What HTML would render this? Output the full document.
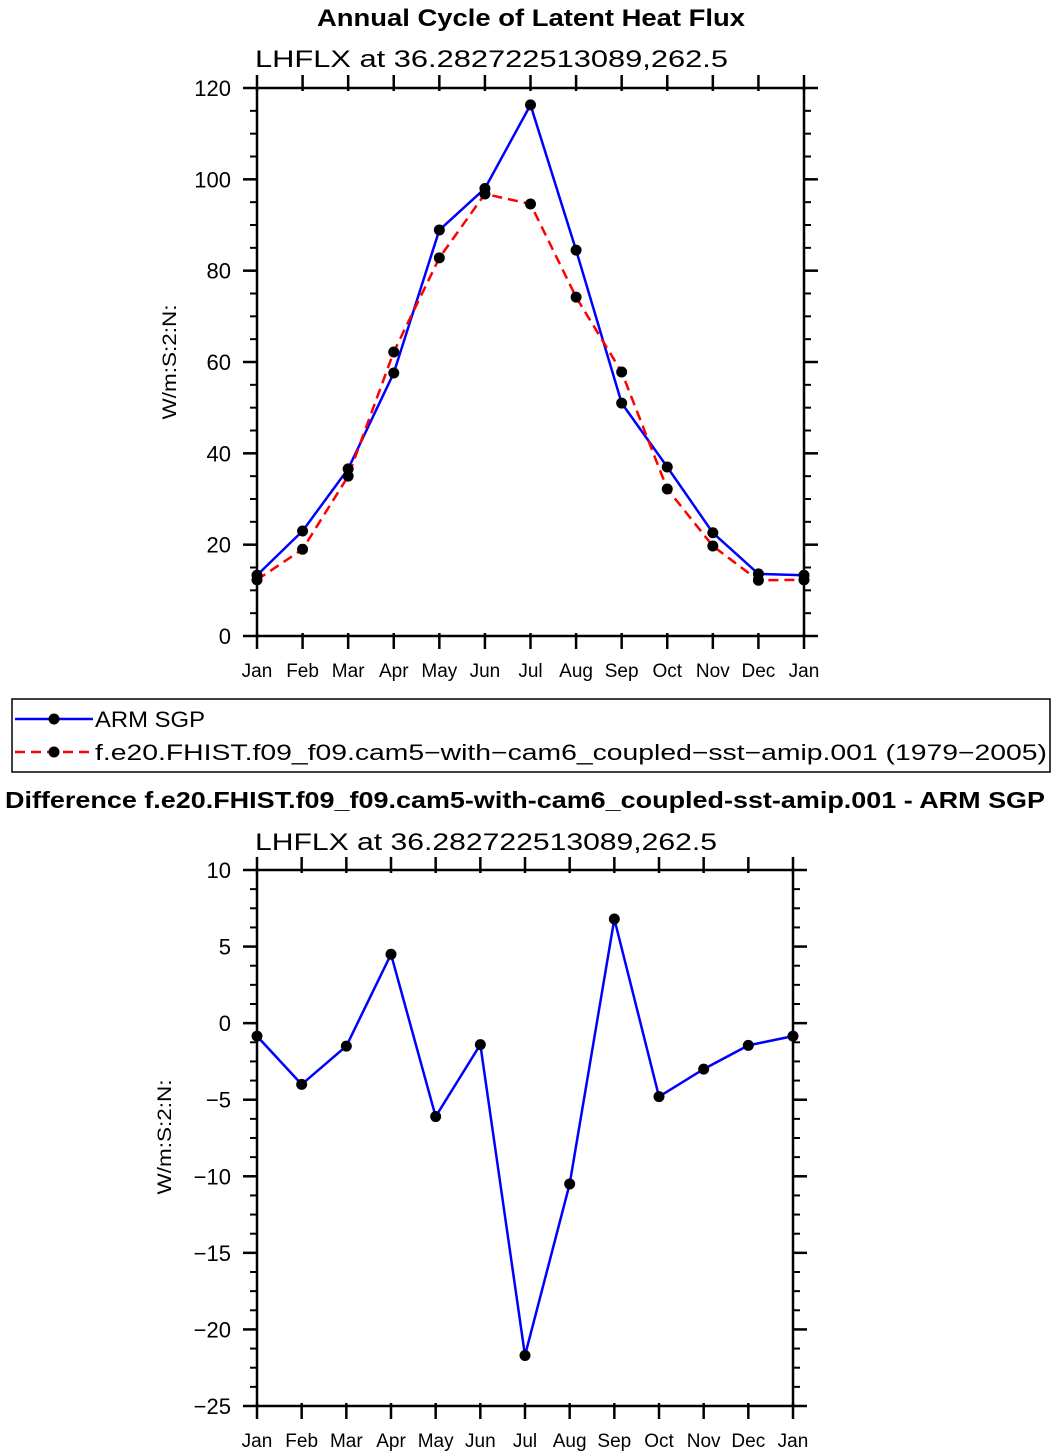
<!DOCTYPE html>
<html><head><meta charset="utf-8"><style>
body{margin:0;background:#fff}
svg{display:block;font-family:"Liberation Sans","DejaVu Sans",sans-serif}
</style></head><body>
<svg id="svg" width="1057" height="1456" viewBox="0 0 1057 1456" xmlns="http://www.w3.org/2000/svg">
<text x="531" y="26" text-anchor="middle" font-size="24" font-weight="bold" textLength="428" lengthAdjust="spacingAndGlyphs">Annual Cycle of Latent Heat Flux</text>
<text x="255" y="67" font-size="24" textLength="473" lengthAdjust="spacingAndGlyphs">LHFLX  at  36.282722513089,262.5</text>
<text transform="translate(176,362) rotate(-90)" text-anchor="middle" font-size="19" textLength="115" lengthAdjust="spacingAndGlyphs">W/m:S:2:N:</text>
<g>
<rect x="12" y="699" width="1038" height="73" fill="none" stroke="#000" stroke-width="1.5"/>
<g>
<line x1="15" y1="719" x2="93" y2="719" stroke="#0000ff" stroke-width="2.5"/><circle cx="54" cy="719" r="5.5"/>
<text x="95" y="727" font-size="22" textLength="110" lengthAdjust="spacingAndGlyphs">ARM  SGP</text></g>
<g>
<line x1="15" y1="752" x2="93" y2="752" stroke="#ff0000" stroke-width="2.5" stroke-dasharray="10,6"/><circle cx="54" cy="752" r="5.5"/>
<text x="95" y="760" font-size="22" textLength="952" lengthAdjust="spacingAndGlyphs">f.e20.FHIST.f09_f09.cam5−with−cam6_coupled−sst−amip.001  (1979−2005)</text></g>
</g>
<text x="525" y="808" text-anchor="middle" font-size="23" font-weight="bold" textLength="1040" lengthAdjust="spacingAndGlyphs">Difference f.e20.FHIST.f09_f09.cam5-with-cam6_coupled-sst-amip.001 - ARM SGP</text>
<text x="255" y="850" font-size="24" textLength="462" lengthAdjust="spacingAndGlyphs">LHFLX  at  36.282722513089,262.5</text>
<text transform="translate(171,1137) rotate(-90)" text-anchor="middle" font-size="19" textLength="115" lengthAdjust="spacingAndGlyphs">W/m:S:2:N:</text>
<g id="top"></g>
<g id="bot"></g>
</svg>
<script>
const months = ["Jan","Feb","Mar","Apr","May","Jun","Jul","Aug","Sep","Oct","Nov","Dec","Jan"];
const armSgp = [13.3,23,36.6,57.6,88.9,98,116.3,84.5,51,37,22.6,13.6,13.3];
const model = [12.3,19,35,62.2,82.8,96.8,94.6,74.2,57.8,32.2,19.7,12.2,12.3];
const diff = [-0.85,-4,-1.5,4.5,-6.1,-1.4,-21.7,-10.5,6.8,-4.8,-3,-1.45,-0.85];
const topTicks = [0,20,40,60,80,100,120];
const botTicks = [-25,-20,-15,-10,-5,0,5,10];
const topTickLabels = ["0","20","40","60","80","100","120"];
const botTickLabels = ["−25","−20","−15","−10","−5","0","5","10"];
const NS="http://www.w3.org/2000/svg";
function mk(parent,tag,attrs){const e=document.createElementNS(NS,tag);for(const k in attrs)e.setAttribute(k,attrs[k]);parent.appendChild(e);return e;}
function chart(gid,x0,x1,y0,y1,vmin,vmax,ticks,labels,minorStep,series,prefix){
  const g=document.getElementById(gid);
  const sx=i=>x0+(x1-x0)*i/(months.length-1);
  const sy=v=>y1-(y1-y0)*(v-vmin)/(vmax-vmin);
  for(let v=vmin;v<=vmax+1e-9;v+=minorStep){
    const y=sy(v);
    let t=mk(g,'line',{x1:x0-7,y1:y,x2:x0,y2:y,stroke:'#000','stroke-width':2});
    
    
    mk(g,'line',{x1:x1,y1:y,x2:x1+7,y2:y,stroke:'#000','stroke-width':2});
  }
  ticks.forEach((v,k)=>{
    const y=sy(v);
    mk(g,'line',{x1:x0-14,y1:y,x2:x0,y2:y,stroke:'#000','stroke-width':2.5});
    mk(g,'line',{x1:x1,y1:y,x2:x1+14,y2:y,stroke:'#000','stroke-width':2.5});
    const t=mk(g,'text',{x:x0-26,y:y+8,'text-anchor':'end','font-size':22});
    t.textContent=labels[k];
    
    
  });
  months.forEach((m,i)=>{
    const x=sx(i);
    mk(g,'line',{x1:x,y1:y1-3,x2:x,y2:y1+13,stroke:'#000','stroke-width':2.5});
    mk(g,'line',{x1:x,y1:y0-13,x2:x,y2:y0+3,stroke:'#000','stroke-width':2.5});
    const t=mk(g,'text',{x:x,y:y1+41,'text-anchor':'middle','font-size':19});
    t.textContent=m;
    
    
  });
  const frame=mk(g,'rect',{x:x0,y:y0,width:x1-x0,height:y1-y0,fill:'none',stroke:'#000','stroke-width':2.5});
  
  
  series.forEach(s=>{
    const pts=s.vals.map((v,i)=>sx(i)+','+sy(v)).join(' ');
    const pl=mk(g,'polyline',{points:pts,fill:'none',stroke:s.color,'stroke-width':2.5});
    if(s.dash)pl.setAttribute('stroke-dasharray',s.dash);
    
    
  });
  series.forEach(s=>{
    s.vals.forEach((v,i)=>{
      const c=mk(g,'circle',{cx:sx(i),cy:sy(v),r:5.5,fill:'#000'});
      
      
    });
  });
}
chart('top',257,804,88,636,0,120,topTicks,topTickLabels,5,[
  {vals:armSgp,color:'#0000ff',name:'arm-sgp-line'},
  {vals:model,color:'#ff0000',dash:'10,6',name:'model-line'}],'top');
chart('bot',257,793,870,1406,-25,10,botTicks,botTickLabels,1.25,[
  {vals:diff,color:'#0000ff',name:'difference-line'}],'bottom');
</script>
</body></html>
